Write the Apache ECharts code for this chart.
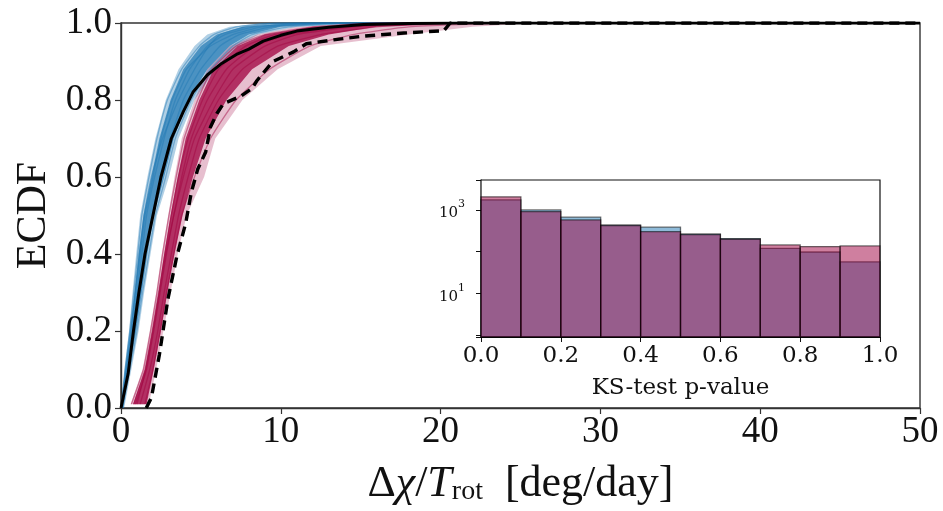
<!DOCTYPE html>
<html>
<head>
<meta charset="utf-8">
<script src="https://cdn.jsdelivr.net/npm/echarts@6/dist/echarts.min.js"></script>
<style>
  html, body { margin: 0; padding: 0; background: #ffffff; }
  #chart { width: 943px; height: 511px; }
</style>
</head>
<body>
<div id="chart"></div>
<script>
// ---- ECDF data: x = Δχ/T_rot [deg/day], y = cumulative fraction ----

// ECDF levels at which the ensemble band edges and sample curves are given
const blueLevels    = [0, 0.1, 0.2, 0.3, 0.4, 0.5, 0.6, 0.7, 0.8, 0.88, 0.94, 0.97, 0.99, 1.0];
const crimsonLevels = [0.01, 0.1, 0.2, 0.3, 0.4, 0.5, 0.6, 0.7, 0.8, 0.88, 0.94, 0.97, 0.99, 1.0];

// blue ensemble: outer (faint) and inner (dense) band edges
const blueOuterLeft  = [0, 0.22, 0.5, 0.72, 0.95, 1.2, 1.65, 2.15, 2.8, 3.6, 4.6, 5.4, 6.8, 9];
const blueOuterRight = [0.2, 0.65, 1.1, 1.45, 1.85, 2.25, 3.0, 3.6, 4.6, 5.9, 7.3, 8.6, 11, 16];
const blueInnerLeft  = [0.03, 0.3, 0.6, 0.85, 1.1, 1.4, 1.9, 2.4, 3.1, 3.9, 5.0, 6.0, 7.6, 11];
const blueInnerRight = [0.12, 0.52, 0.95, 1.3, 1.65, 2.05, 2.7, 3.3, 4.2, 5.4, 6.8, 8.0, 10, 14];

// crimson ensemble: outer (faint) and inner (dense) band edges
const crimsonOuterLeft  = [0.6, 1.35, 1.8, 2.2, 2.55, 2.95, 3.35, 3.8, 4.6, 5.4, 6.8, 8.5, 11, 16];
const crimsonOuterRight = [1.75, 2.2, 2.65, 3.1, 3.55, 4.1, 5.2, 5.9, 7.6, 9.8, 12.5, 18, 22, 26];
const crimsonInnerLeft  = [0.75, 1.5, 1.95, 2.35, 2.7, 3.1, 3.55, 4.05, 4.9, 5.8, 7.3, 9, 12, 17];
const crimsonInnerRight = [1.6, 2.05, 2.5, 2.9, 3.35, 3.85, 4.5, 5.3, 6.6, 8.2, 10.5, 13, 16, 22];

// individual ensemble members (x at the levels above)
const blueMembers = [
  [0, 0.25, 0.55, 0.8, 1.05, 1.3, 1.75, 2.25, 2.9, 3.8, 4.9, 5.8, 7.2, 9.5],
  [0.05, 0.35, 0.7, 1.0, 1.3, 1.6, 2.1, 2.7, 3.4, 4.3, 5.4, 6.5, 8.3, 11],
  [0.1, 0.45, 0.85, 1.2, 1.55, 1.95, 2.5, 3.1, 3.9, 5.0, 6.2, 7.4, 9.4, 13],
  [0.02, 0.3, 0.62, 0.9, 1.2, 1.5, 2.0, 2.5, 3.2, 4.1, 5.6, 7.0, 8.8, 12],
  [0.12, 0.55, 1.0, 1.35, 1.75, 2.15, 2.8, 3.4, 4.4, 5.6, 7.0, 8.2, 10.5, 15],
  [0.03, 0.28, 0.58, 0.88, 1.15, 1.45, 1.9, 2.6, 3.6, 4.6, 5.5, 6.2, 7.8, 10]
];
const crimsonMembers = [
  [0.65, 1.4, 1.85, 2.25, 2.6, 3.0, 3.45, 3.95, 4.8, 5.7, 7.2, 9.0, 12, 16],
  [0.9, 1.6, 2.05, 2.45, 2.85, 3.3, 3.8, 4.4, 5.4, 6.6, 8.4, 10.5, 14, 19],
  [1.2, 1.8, 2.3, 2.7, 3.15, 3.6, 4.2, 4.9, 6.1, 7.6, 9.8, 12.5, 16, 21],
  [0.8, 1.5, 1.95, 2.35, 2.75, 3.15, 3.6, 4.2, 5.1, 6.1, 7.8, 9.6, 13, 18],
  [1.5, 2.0, 2.45, 2.85, 3.3, 3.8, 4.6, 5.6, 7.2, 9.3, 11.8, 14.5, 18, 24],
  [1.0, 1.55, 2.0, 2.4, 2.8, 3.3, 3.9, 4.6, 5.8, 7.0, 9.0, 11, 14.5, 20]
];

// observed ECDFs: solid (first sample) and dashed (second sample)
const observedSolid = [
  [0, 0], [0.45, 0.09], [0.78, 0.2], [1.12, 0.3], [1.5, 0.4], [1.95, 0.49],
  [2.5, 0.6], [3.15, 0.7], [3.9, 0.77], [4.5, 0.82], [5.4, 0.865], [6.3, 0.895],
  [7.3, 0.92], [8.0, 0.932], [8.9, 0.953], [10, 0.968], [11, 0.979], [13, 0.989],
  [15.2, 0.996], [18, 0.999], [21, 1.0], [50, 1.0]
];
const observedDashed = [
  [1.58, 0], [1.7, 0.01], [1.9, 0.026], [2.4, 0.138], [2.94, 0.284], [3.5, 0.395],
  [4.05, 0.48], [4.4, 0.56], [4.8, 0.62], [5.3, 0.665], [5.6, 0.73], [6.0, 0.765],
  [6.4, 0.79], [7.5, 0.81], [8.2, 0.83], [8.5, 0.85], [9.5, 0.9], [10.8, 0.925],
  [11.6, 0.946], [13.1, 0.955], [15.2, 0.966], [17.7, 0.974], [20.2, 0.98],
  [20.6, 1.0], [50, 1.0]
];

// ---- KS-test p-value histogram (inset) ----
const pBinEdges  = [0, 0.1, 0.2, 0.3, 0.4, 0.5, 0.6, 0.7, 0.8, 0.9, 1.0];
const ksBlue     = [1740, 1000, 670, 437, 385, 265, 205, 120, 98, 57];
const ksCrimson  = [2050, 910, 575, 420, 301, 255, 198, 145, 132, 137];
const ksYMin = 0.9, ksYMax = 5200;

const BLUE = '#1f77b4';
const CRIMSON = '#a0003f';
const MAIN_FONT = '"Liberation Serif", "DejaVu Serif", serif';
const INSET_FONT = '"DejaVu Serif", serif';

function toPoints(xs, levels) {
  const pts = xs.map((x, i) => [x, levels[i]]);
  pts.push([50, 1]);
  return pts;
}

function bandSeries(left, right, levels, color, opacity) {
  const ring = left.map((x, i) => [x, levels[i]])
    .concat(right.map((x, i) => [x, levels[i]]).reverse());
  return {
    type: 'custom', xAxisIndex: 0, yAxisIndex: 0, silent: true, z: 1,
    data: ring,
    renderItem: function (params, api) {
      if (params.dataIndex !== 0) return null;
      return {
        type: 'polygon',
        shape: { points: ring.map(p => api.coord(p)), smooth: 0 },
        style: { fill: color, opacity: opacity }
      };
    }
  };
}

function memberSeries(xs, levels, color, opacity) {
  return {
    type: 'line', xAxisIndex: 0, yAxisIndex: 0, silent: true, z: 2,
    data: toPoints(xs, levels), symbol: 'none', smooth: 0.15,
    lineStyle: { color: color, width: 1.3, opacity: opacity }
  };
}

function histSeries(values, color) {
  const rows = values.map((v, i) => [pBinEdges[i], pBinEdges[i + 1], v]);
  return {
    type: 'custom', xAxisIndex: 1, yAxisIndex: 1, silent: true, z: 5,
    data: rows,
    encode: { x: [0, 1], y: 2 },
    renderItem: function (params, api) {
      const top = api.coord([api.value(0), api.value(2)]);
      const bot = api.coord([api.value(1), ksYMin]);
      return {
        type: 'rect',
        shape: { x: top[0], y: top[1], width: bot[0] - top[0], height: bot[1] - top[1] },
        style: { fill: color, opacity: 1, stroke: 'rgba(0,0,0,0.55)', lineWidth: 1.3, fillOpacity: 0.5 }
      };
    }
  };
}

const series = [];
series.push(bandSeries(blueOuterLeft, blueOuterRight, blueLevels, BLUE, 0.35));
series.push(bandSeries(blueInnerLeft, blueInnerRight, blueLevels, BLUE, 0.7));
series.push(bandSeries(crimsonOuterLeft, crimsonOuterRight, crimsonLevels, CRIMSON, 0.25));
series.push(bandSeries(crimsonInnerLeft, crimsonInnerRight, crimsonLevels, CRIMSON, 0.75));
blueMembers.forEach(m => series.push(memberSeries(m, blueLevels, BLUE, 0.45)));
crimsonMembers.forEach(m => series.push(memberSeries(m, crimsonLevels, CRIMSON, 0.45)));
series.push({
  type: 'line', xAxisIndex: 0, yAxisIndex: 0, silent: true, z: 4,
  data: observedSolid, symbol: 'none',
  lineStyle: { color: '#000', width: 3 }
});
series.push({
  type: 'line', xAxisIndex: 0, yAxisIndex: 0, silent: true, z: 4,
  data: observedDashed, symbol: 'none',
  lineStyle: { color: '#000', width: 3.4, type: [10, 6] }
});
series.push(histSeries(ksBlue, BLUE));
series.push(histSeries(ksCrimson, CRIMSON));

const chart = echarts.init(document.getElementById('chart'), null, { renderer: 'canvas' });
chart.setOption({
  animation: false,
  backgroundColor: '#ffffff',
  grid: [
    { left: 121, top: 23, width: 799, height: 389, show: true, borderColor: '#333', borderWidth: 1.4, backgroundColor: 'transparent' },
    { left: 481, top: 180, width: 399, height: 157, show: true, borderColor: '#111', borderWidth: 1.2, backgroundColor: '#ffffff', z: 3 }
  ],
  xAxis: [
    {
      gridIndex: 0, type: 'value', min: 0, max: 50, interval: 10,
      axisLine: { show: true, onZero: false, lineStyle: { color: '#333', width: 1.4 } },
      axisTick: { show: true, length: 6, lineStyle: { color: '#333', width: 1.2 } },
      axisLabel: { fontFamily: MAIN_FONT, fontSize: 37, color: '#111', margin: 6 },
      splitLine: { show: false },
      name: '{n|Δ}{i|χ}{n|/}{i|T}{s|rot}{n|  [deg/day]}',
      nameLocation: 'middle', nameGap: 50,
      nameTextStyle: {
        rich: {
          n: { fontFamily: MAIN_FONT, fontSize: 44, color: '#111', verticalAlign: 'bottom', lineHeight: 48 },
          i: { fontFamily: MAIN_FONT, fontSize: 44, fontStyle: 'italic', color: '#111', verticalAlign: 'bottom', lineHeight: 48 },
          s: { fontFamily: MAIN_FONT, fontSize: 28, color: '#111', verticalAlign: 'bottom', lineHeight: 26 }
        }
      }
    },
    {
      gridIndex: 1, type: 'value', min: 0, max: 1, interval: 0.2,
      axisLine: { show: true, onZero: false, lineStyle: { color: '#111', width: 1.2 } },
      axisTick: { show: true, length: 5, lineStyle: { color: '#111', width: 1 } },
      axisLabel: { fontFamily: INSET_FONT, fontSize: 23, color: '#111', margin: 8,
        formatter: v => v.toFixed(1) },
      splitLine: { show: false },
      name: 'KS-test p-value', nameLocation: 'middle', nameGap: 40,
      nameTextStyle: { fontFamily: INSET_FONT, fontSize: 23, color: '#111' }
    }
  ],
  yAxis: [
    {
      gridIndex: 0, type: 'value', min: 0, max: 1, interval: 0.2,
      axisLine: { show: true, lineStyle: { color: '#333', width: 1.4 } },
      axisTick: { show: true, length: 6, lineStyle: { color: '#333', width: 1.2 } },
      axisLabel: { fontFamily: MAIN_FONT, fontSize: 37, color: '#111', margin: 9,
        formatter: v => v.toFixed(1) },
      splitLine: { show: false },
      name: 'ECDF', nameLocation: 'middle', nameGap: 66,
      nameTextStyle: { fontFamily: MAIN_FONT, fontSize: 42, color: '#111' }
    },
    {
      gridIndex: 1, type: 'log', logBase: 10, min: ksYMin, max: ksYMax,
      axisLine: { show: true, lineStyle: { color: '#111', width: 1.2 } },
      axisTick: { show: true, length: 5, lineStyle: { color: '#111', width: 1 } },
      axisLabel: {
        color: '#111', margin: 16,
        formatter: function (v) {
          const e = Math.round(Math.log10(v));
          if (Math.abs(Math.log10(v) - e) > 1e-6) return '';
          if (e === 1 || e === 3) return '{b|10}{p|' + e + '}';
          return '';
        },
        rich: {
          b: { fontFamily: INSET_FONT, fontSize: 15, color: '#111', verticalAlign: 'bottom', lineHeight: 22 },
          p: { fontFamily: INSET_FONT, fontSize: 11, color: '#111', verticalAlign: 'top', lineHeight: 12 }
        }
      },
      splitLine: { show: false }
    }
  ],
  series: series
});
</script>
</body>
</html>
